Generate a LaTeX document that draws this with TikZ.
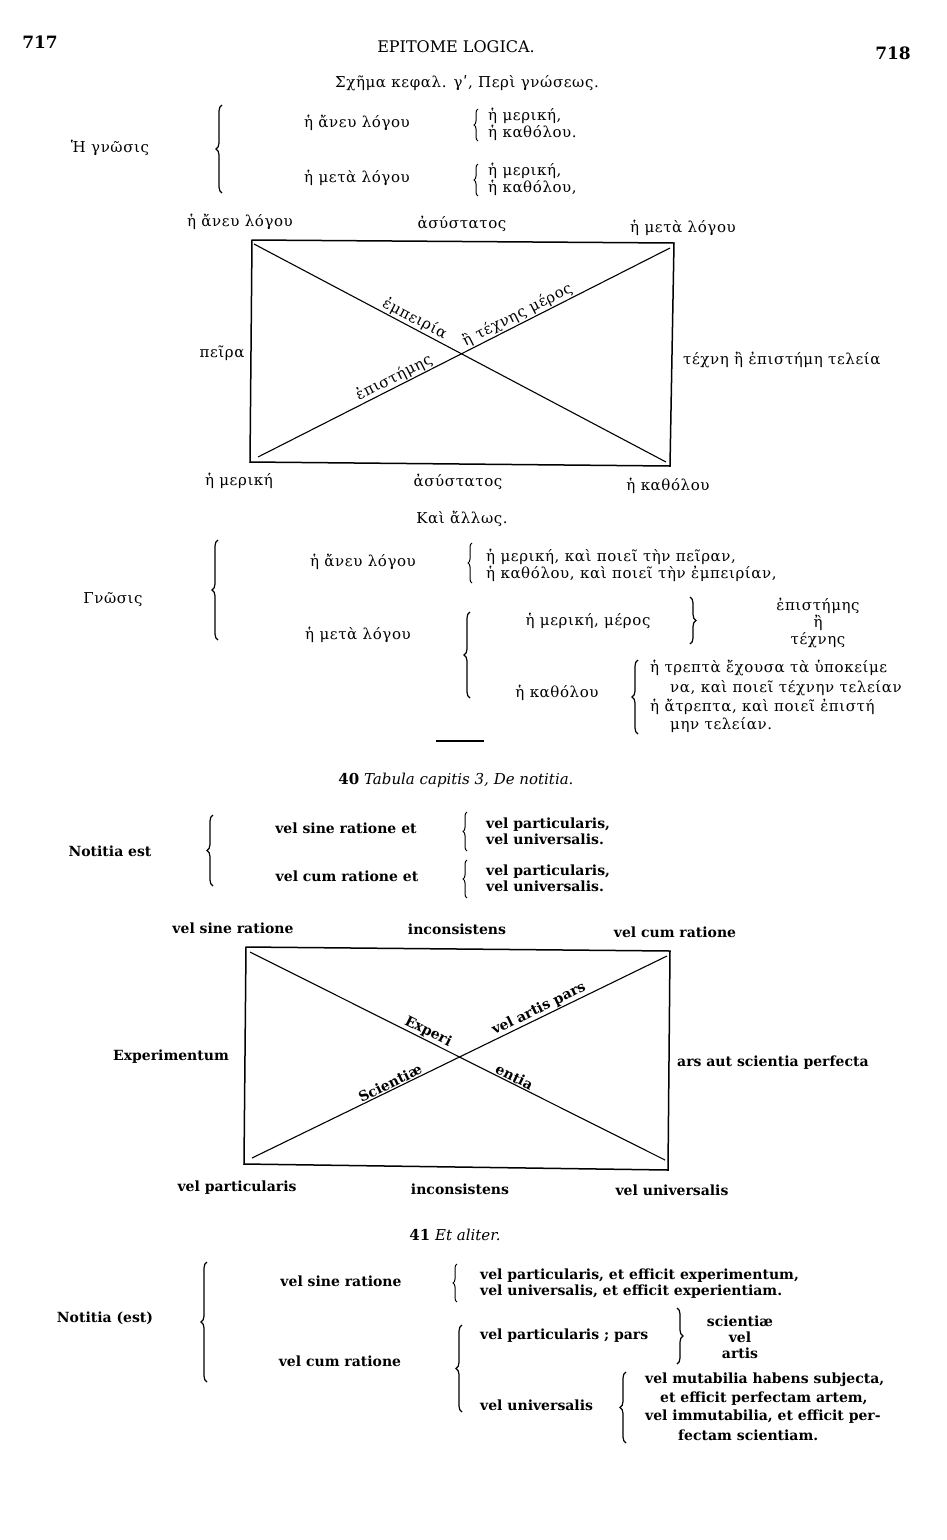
\documentclass[tikz,border=0pt]{standalone}
\usepackage{fontspec}
\setmainfont{DejaVu Serif}
\newfontfamily\grkfont[LetterSpace=4]{DejaVu Serif}
\usetikzlibrary{decorations.pathreplacing}
\tikzset{
      head/.style={inner sep=0pt, font=\bfseries\fontsize{17}{17}\selectfont},
      pagetitle/.style={inner sep=0pt, font=\fontsize{16}{16}\selectfont},
      grk/.style={inner sep=0pt, font=\grkfont\fontsize{15}{17}\selectfont},
      lat/.style={inner sep=0pt, font=\bfseries\fontsize{14}{16}\selectfont},
      caption/.style={inner sep=0pt, font=\fontsize{15}{15}\selectfont},
      brc/.style={decorate, decoration={brace, amplitude=6pt}, line width=1.2pt},
      brcs/.style={decorate, decoration={brace, amplitude=4pt}, line width=1pt},
      frame/.style={line width=1.5pt},
      diag/.style={line width=1.1pt},
      dlab/.style={inner sep=1pt, sloped, above}
    }

\begin{document}
\begin{tikzpicture}[x=1pt,y=-1pt]
    \useasboundingbox (0,0) rectangle (947,1540);
    % page head
    \node[head] (pgl) at (40,42) {717};
    \node[pagetitle] (ttl) at (456,47) {EPITOME LOGICA.};
    \node[head] (pgr) at (893,53) {718};

    % Greek scheme, first table
    \node[grk] (schema) at (467,83) {Σχῆμα κεφαλ. γʹ, Περὶ γνώσεως.};
    \node[grk] (gnA) at (110,148) {Ἡ γνῶσις};
    \draw[brc] (222,193) -- (222,105);
    \node[grk] (aneuA) at (357,123) {ἡ ἄνευ λόγου};
    \draw[brcs] (478,141) -- (478,109);
    \node[grk, anchor=west, align=left] (aneuAs) at (488,124) {ἡ μερική,\\ἡ καθόλου.};
    \node[grk] (metaA) at (357,178) {ἡ μετὰ λόγου};
    \draw[brcs] (478,196) -- (478,164);
    \node[grk, anchor=west, align=left] (metaAs) at (488,179) {ἡ μερική,\\ἡ καθόλου,};

    % Greek square
    \coordinate (ga) at (252,240);
    \coordinate (gb) at (674,243);
    \coordinate (gc) at (670,466);
    \coordinate (gd) at (250,462);
    \draw[frame] (ga) -- (gb) -- (gc) -- (gd) -- cycle;
    \coordinate (gp) at (254,244);
    \coordinate (gq) at (666,462);
    \coordinate (gr) at (258,457);
    \coordinate (gs) at (670,248);
    \draw[diag] (gp) -- node[grk, dlab, pos=0.38] (empA) {ἐμπειρία} (gq);
    \draw[diag] (gr) -- node[grk, dlab, pos=0.34] (epiA) {ἐπιστήμης}
                        node[grk, dlab, pos=0.64] (texA) {ἢ τέχνης μέρος} (gs);
    \node[grk] (ga1) at (240,222) {ἡ ἄνευ λόγου};
    \node[grk] (gb1) at (462,224) {ἀσύστατος};
    \node[grk] (gc1) at (683,228) {ἡ μετὰ λόγου};
    \node[grk] (gl1) at (222,353) {πεῖρα};
    \node[grk, anchor=west] (gr1) at (683,360) {τέχνη ἢ ἐπιστήμη τελεία};
    \node[grk] (gd1) at (239,481) {ἡ μερική};
    \node[grk] (ge1) at (458,482) {ἀσύστατος};
    \node[grk] (gf1) at (668,486) {ἡ καθόλου};

    % Greek scheme, second table
    \node[grk] (allos) at (462,519) {Καὶ ἄλλως.};
    \node[grk] (gnB) at (113,600) {Γνῶσις};
    \draw[brc] (218,640) -- (218,540);
    \node[grk] (aneuB) at (363,562) {ἡ ἄνευ λόγου};
    \draw[brcs] (472,583) -- (472,543);
    \node[grk, anchor=west, align=left] (aneuBs) at (486,565)
      {ἡ μερική, καὶ ποιεῖ τὴν πεῖραν,\\ἡ καθόλου, καὶ ποιεῖ τὴν ἐμπειρίαν,};
    \node[grk] (metaB) at (358,635) {ἡ μετὰ λόγου};
    \draw[brc] (470,698) -- (470,612);
    \node[grk] (merB) at (588,621) {ἡ μερική, μέρος};
    \draw[brc] (690,597) -- (690,644);
    \node[grk, align=center] (merBs) at (818,623) {ἐπιστήμης\\ἢ\\τέχνης};
    \node[grk] (kathB) at (557,693) {ἡ καθόλου};
    \draw[brc] (638,734) -- (638,660);
    \node[grk, anchor=west] (kathB1) at (650,668) {ἡ τρεπτὰ ἔχουσα τὰ ὑποκείμε};
    \node[grk, anchor=west] (kathB2) at (670,688) {να, καὶ ποιεῖ τέχνην τελείαν};
    \node[grk, anchor=west] (kathB3) at (650,707) {ἡ ἄτρεπτα, καὶ ποιεῖ ἐπιστή};
    \node[grk, anchor=west] (kathB4) at (670,725) {μην τελείαν.};
    \draw[line width=2pt] (436,741) -- (484,741);

    % Latin scheme, table 40
    \node[caption] (tab40) at (456,780) {\textbf{40} \textit{Tabula capitis 3, De notitia.}};
    \node[lat] (notA) at (110,851) {Notitia est};
    \draw[brc] (213,886) -- (213,815);
    \node[lat] (sineA) at (346,828) {vel sine ratione et};
    \draw[brcs] (467,851) -- (467,812);
    \node[lat, anchor=west, align=left] (sineAs) at (486,831) {vel particularis,\\vel universalis.};
    \node[lat] (cumA) at (347,876) {vel cum ratione et};
    \draw[brcs] (467,898) -- (467,860);
    \node[lat, anchor=west, align=left] (cumAs) at (486,878) {vel particularis,\\vel universalis.};

    % Latin square
    \coordinate (la) at (246,947);
    \coordinate (lb) at (670,951);
    \coordinate (lc) at (668,1170);
    \coordinate (ld) at (244,1164);
    \draw[frame] (la) -- (lb) -- (lc) -- (ld) -- cycle;
    \coordinate (lp) at (250,952);
    \coordinate (lq) at (665,1160);
    \coordinate (lr) at (252,1158);
    \coordinate (ls) at (667,956);
    \draw[diag] (lp) -- node[lat, dlab, pos=0.42] (expL) {Experi}
                        node[lat, dlab, pos=0.63] (entL) {entia} (lq);
    \draw[diag] (lr) -- node[lat, dlab, pos=0.34] (sciL) {Scientiæ}
                        node[lat, dlab, pos=0.70] (artL) {vel artis pars} (ls);
    \node[lat] (la1) at (233,928) {vel sine ratione};
    \node[lat] (lb1) at (457,929) {inconsistens};
    \node[lat] (lc1) at (675,932) {vel cum ratione};
    \node[lat] (ll1) at (171,1057) {Experimentum};
    \node[lat, anchor=west] (lr1) at (677,1063) {ars aut scientia perfecta};
    \node[lat] (ld1) at (237,1188) {vel particularis};
    \node[lat] (le1) at (460,1189) {inconsistens};
    \node[lat] (lf1) at (672,1190) {vel universalis};

    % Latin scheme, table 41
    \node[caption] (tab41) at (455,1235) {\textbf{41} \textit{Et aliter.}};
    \node[lat] (notB) at (105,1318) {Notitia (est)};
    \draw[brc] (207,1382) -- (207,1262);
    \node[lat] (sineB) at (341,1281) {vel sine ratione};
    \draw[brcs] (457,1302) -- (457,1264);
    \node[lat, anchor=west, align=left] (sineBs) at (480,1284)
      {vel particularis, et efficit experimentum,\\vel universalis, et efficit experientiam.};
    \node[lat] (cumB) at (340,1361) {vel cum ratione};
    \draw[brc] (462,1412) -- (462,1325);
    \node[lat, anchor=west] (partB) at (480,1336) {vel particularis ; pars};
    \draw[brc] (677,1308) -- (677,1364);
    \node[lat, align=center] (partBs) at (740,1337) {scientiæ\\vel\\artis};
    \node[lat, anchor=west] (univB) at (480,1405) {vel universalis};
    \draw[brc] (626,1443) -- (626,1372);
    \node[lat, anchor=west] (univB1) at (645,1380) {vel mutabilia habens subjecta,};
    \node[lat, anchor=west] (univB2) at (660,1399) {et efficit perfectam artem,};
    \node[lat, anchor=west] (univB3) at (645,1417) {vel immutabilia, et efficit per-};
    \node[lat, anchor=west] (univB4) at (678,1435) {fectam scientiam.};
\end{tikzpicture}
\end{document}
